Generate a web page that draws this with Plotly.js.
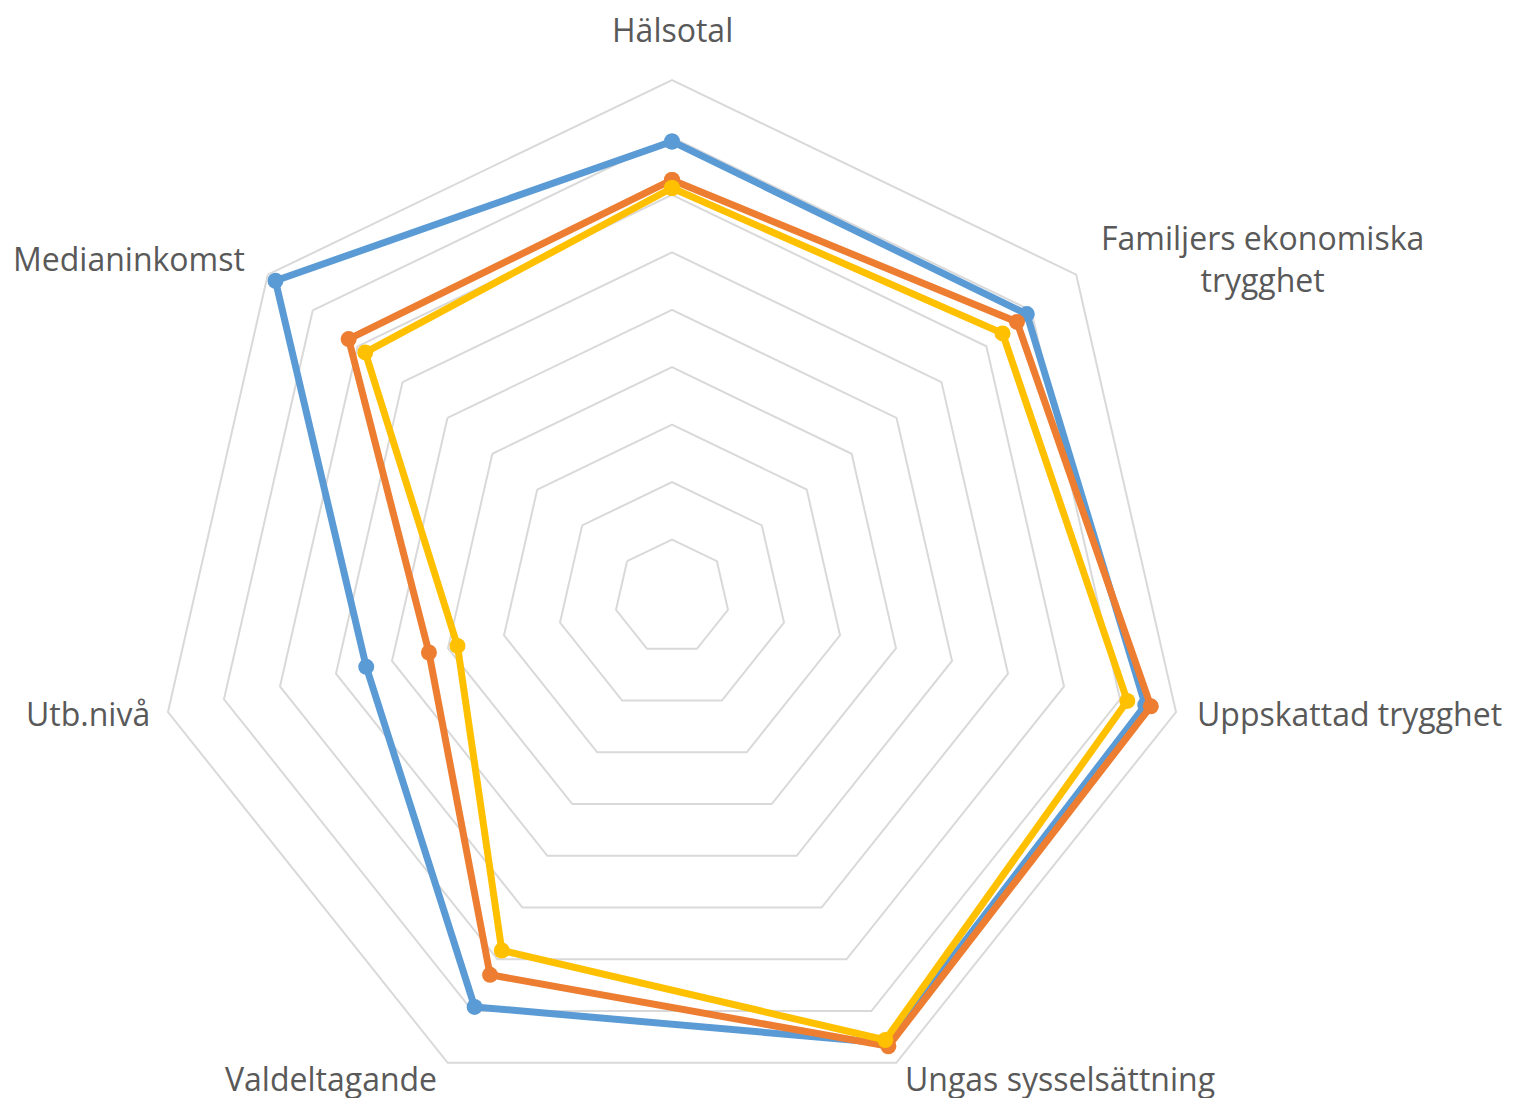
<!DOCTYPE html>
<html>
<head>
<meta charset="utf-8">
<script src="https://cdn.plot.ly/plotly-3.0.1.min.js"></script>
<style>
html, body { margin: 0; padding: 0; overflow: hidden; background: #ffffff; }
#chart { width: 1517px; height: 1140px; }
</style>
</head>
<body>
<div id="chart"></div>
<script>
const categories = [
  "Hälsotal",
  "Familjers ekonomiska trygghet",
  "Uppskattad trygghet",
  "Ungas sysselsättning",
  "Valdeltagande",
  "Utb.nivå",
  "Medianinkomst"
];
const categoryLabels = [
  "Hälsotal",
  "Familjers ekonomiska<br>trygghet",
  "Uppskattad trygghet",
  "Ungas sysselsättning",
  "Valdeltagande",
  "Utb.nivå",
  "Medianinkomst"
];
const seriesBlue   = [7.93, 7.90, 8.45, 8.62, 7.92, 5.46, 8.83];
const seriesOrange = [7.26, 7.68, 8.55, 8.68, 7.30, 4.34, 7.20];
const seriesYellow = [7.12, 7.36, 8.13, 8.56, 6.83, 3.83, 6.83];
const seriesNames  = ["Serie 1", "Serie 2", "Serie 3"];
const seriesColors = ["#5B9BD5", "#ED7D31", "#FFC000"];

function closed(arr) { return arr.concat([arr[0]]); }

const allSeries = [seriesBlue, seriesOrange, seriesYellow];
const traces = allSeries.map((vals, i) => ({
  type: "scatterpolar",
  r: closed(vals),
  theta: closed(categories),
  mode: "lines+markers",
  name: seriesNames[i],
  line: { color: seriesColors[i], width: 7 },
  marker: { color: seriesColors[i], size: 16 },
  hoverinfo: "r+theta"
}));

const W = 1517, H = 1140;
const cx = 672, cy = 597, R = 517;
const labelFont = { family: "'Open Sans', 'Liberation Sans', sans-serif", color: "#595959", size: 32 };

// label placement (pixels from top-left) and anchoring for each category
const labelPos = [
  { x: 672,  y: 30,   xanchor: "center" },
  { x: 1262, y: 258,  xanchor: "center" },
  { x: 1195, y: 713,  xanchor: "left" },
  { x: 903,  y: 1078, xanchor: "left" },
  { x: 439,  y: 1078, xanchor: "right" },
  { x: 152,  y: 713,  xanchor: "right" },
  { x: 247,  y: 258,  xanchor: "right" }
];

const annotations = categoryLabels.map((t, i) => ({
  text: t,
  xref: "paper", yref: "paper",
  x: labelPos[i].x / W,
  y: (H - labelPos[i].y) / H,
  xanchor: labelPos[i].xanchor,
  yanchor: "middle",
  align: "center",
  showarrow: false,
  font: labelFont
}));

const layout = {
  width: W,
  height: H,
  margin: { l: 0, r: 0, t: 0, b: 0 },
  paper_bgcolor: "#ffffff",
  showlegend: false,
  font: labelFont,
  annotations: annotations,
  polar: {
    domain: {
      x: [(cx - R) / W, (cx + R) / W],
      y: [(H - cy - R) / H, (H - cy + R) / H]
    },
    gridshape: "linear",
    bgcolor: "#ffffff",
    radialaxis: {
      range: [0, 9],
      dtick: 1,
      showticklabels: false,
      ticks: "",
      showline: false,
      gridcolor: "#d9d9d9",
      gridwidth: 2
    },
    angularaxis: {
      type: "category",
      categoryarray: categories,
      direction: "clockwise",
      rotation: 90,
      showgrid: false,
      showline: true,
      linecolor: "#d9d9d9",
      linewidth: 2,
      ticks: "",
      showticklabels: false
    }
  }
};

Plotly.newPlot("chart", traces, layout, { displayModeBar: false, staticPlot: true });
</script>
</body>
</html>
